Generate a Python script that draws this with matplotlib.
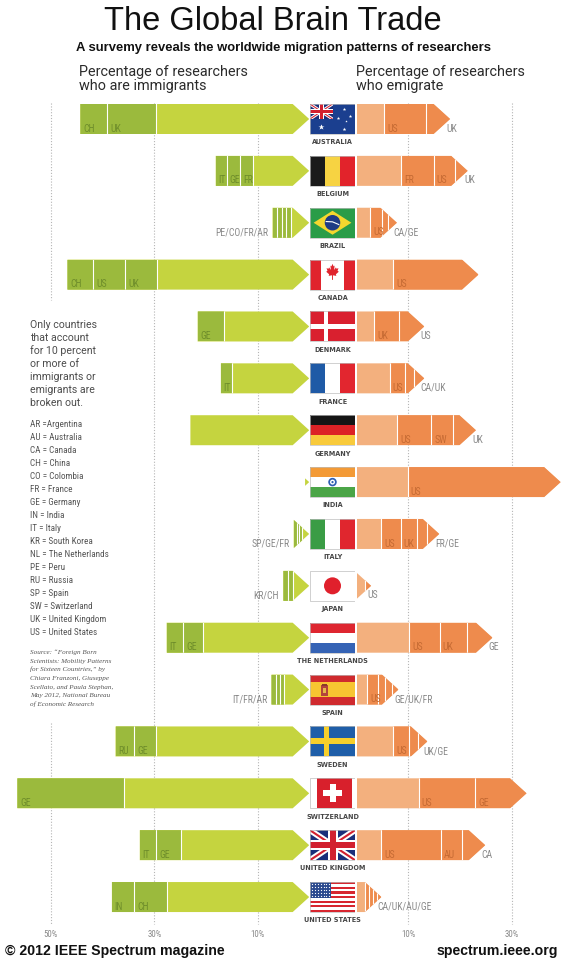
import numpy as np
import matplotlib
matplotlib.use('Agg')
import matplotlib.pyplot as plt
from matplotlib.patches import Polygon, Rectangle, Ellipse
from matplotlib import font_manager as fm

# ---------------- data ----------------
countries = ["AUSTRALIA", "BELGIUM", "BRAZIL", "CANADA", "DENMARK", "FRANCE",
             "GERMANY", "INDIA", "ITALY", "JAPAN", "THE NETHERLANDS", "SPAIN",
             "SWEDEN", "SWITZERLAND", "UNITED KINGDOM", "UNITED STATES"]
flag_ids = ["au", "be", "br", "ca", "dk", "fr", "de", "in", "it", "jp", "nl",
            "es", "se", "ch", "gb", "us"]

# percentage of researchers who are immigrants (total) and broken-out origins
imm_total = [44.3, 18.1, 7.1, 46.8, 21.6, 17.1, 23.0, 0.8, 3.0, 5.0, 27.6, 7.3,
             37.5, 56.5, 32.8, 38.2]
imm_codes = [["CH", "UK"], ["IT", "GE", "FR"], ["PE", "CO", "FR", "AR"],
             ["CH", "US", "UK"], ["GE"], ["IT"], [], [], ["SP", "GE", "FR"],
             ["KR", "CH"], ["IT", "GE"], ["IT", "FR", "AR"], ["RU", "GE"],
             ["GE"], ["IT", "GE"], ["IN", "CH"]]
imm_shares = [[5.2, 9.4], [2.1, 2.6, 2.6], [0.9, 0.9, 0.9, 0.9],
              [5.0, 6.2, 6.2], [5.1], [2.1], [], [], [0.55, 0.55, 0.55],
              [0.8, 1.0], [3.2, 3.9], [0.8, 0.8, 0.8], [3.6, 4.2],
              [20.7], [3.2, 4.8], [4.3, 6.4]]

# percentage of researchers who emigrate (total) and broken-out destinations
emi_total = [18.1, 21.5, 7.8, 23.6, 13.1, 13.1, 23.1, 39.5, 16.0, 2.8, 26.3,
             8.1, 13.7, 32.9, 24.9, 4.8]
emi_codes = [["US", "UK"], ["FR", "US", "UK"], ["US", "CA", "GE"], ["US"],
             ["UK", "US"], ["US", "CA", "UK"], ["US", "SW", "UK"], ["US"],
             ["US", "UK", "FR", "GE"], ["US"], ["US", "UK", "GE"],
             ["US", "GE", "UK", "FR"], ["US", "UK", "GE"], ["US", "GE"],
             ["US", "AU", "CA"], ["CA", "UK", "AU", "GE"]]
emi_shares = [[8.1, 4.7], [6.3, 4.2, 2.4], [2.4, 1.1, 1.7], [16.5],
              [4.8, 4.9], [2.9, 1.8, 2.0], [6.6, 4.3, 4.4], [29.6],
              [3.8, 3.1, 2.0, 2.4], [1.2], [5.9, 5.2, 5.0],
              [2.2, 1.3, 1.3, 1.3], [3.1, 1.6, 1.9], [11.0, 9.9],
              [11.5, 4.1, 4.5], [0.8, 0.8, 0.8, 0.8]]

left_ticks = [50, 30, 10]
right_ticks = [10, 30]

legend_lines = ["AR =Argentina", "AU = Australia", "CA = Canada", "CH = China",
                "CO = Colombia", "FR = France", "GE = Germany", "IN = India",
                "IT = Italy", "KR = South Korea", "NL = The Netherlands",
                "PE = Peru", "RU = Russia", "SP = Spain", "SW = Switzerland",
                "UK = United Kingdom", "US = United States"]
note_lines = ["Only countries", "that account", "for 10 percent", "or more of",
              "immigrants or", "emigrants are", "broken out."]
source_lines = ["Source: \u201cForeign Born", "Scientists: Mobility Patterns",
                "for Sixteen Countries,\u201d by", "Chiara Franzoni, Giuseppe",
                "Scellato, and Paula Stephan,", "May 2012, National Bureau",
                "of Economic Research"]

# ---------------- fonts ----------------
def pick(names):
    for n in names:
        try:
            fm.findfont(fm.FontProperties(family=n), fallback_to_default=False)
            return n
        except Exception:
            pass
    return 'DejaVu Sans'

NARROW = pick(['Liberation Sans Narrow', 'Roboto Condensed', 'Roboto'])
SANS = pick(['Liberation Sans', 'Arial', 'Roboto'])
SERIF = pick(['Liberation Serif', 'DejaVu Serif'])
ROBO = pick(['Roboto', 'Open Sans', 'Lato'])

# ---------------- layout ----------------
W, Hfig = 564, 960
ROW0, ROWPX = 119.0, 51.87      # pixel centre of first row, row pitch
BARPX = 30.0
H = BARPX / ROWPX               # bar height in row units
HH = H / 2
PXPCT = 5.165                   # pixels per percent
L0, R0 = 309.2, 356.6           # pixel of 0% on left / right side
FLX0, FLW = 310.0, 45.0         # flag box
AH = 3.2                        # arrow head length (percent)

G_LIGHT = '#c5d43f'
G_DARK = '#9bba3d'
O_LIGHT = '#f3b07e'
O_DARK = '#ee8b4d'
G_TXT = '#6f8e2b'
O_TXT = '#c56a33'
OUT_TXT = '#8a8a8a'

def prow(px):
    return (px - ROW0) / ROWPX

ylim = (prow(Hfig), prow(0))

fig = plt.figure(figsize=(W / 100, Hfig / 100), dpi=100)
fig.patch.set_facecolor('white')

axL = fig.add_axes([0, 0, L0 / W, 1])
axL.set_xlim(L0 / PXPCT, 0)
axR = fig.add_axes([R0 / W, 0, (W - R0) / W, 1])
axR.set_xlim(0, (W - R0) / PXPCT)
axM = fig.add_axes([FLX0 / W, 0, FLW / W, 1])
axM.set_xlim(0, FLW)
for a in (axL, axR, axM):
    a.set_ylim(*ylim)
    a.axis('off')
    a.patch.set_alpha(0)

# ---------------- grid lines ----------------
grid_kw = dict(color='#b5b5b5', lw=0.8, linestyle=(0, (1, 1.6)), zorder=1)
gtop, gbot = prow(103), prow(924)
for t in left_ticks:
    if t == 50:
        axL.plot([t, t], [gtop, prow(300)], **grid_kw)
        axL.plot([t, t], [prow(723), gbot], **grid_kw)
    else:
        axL.plot([t, t], [gtop, gbot], **grid_kw)
    axL.text(t, prow(936.5), f"{t}%", ha='center', va='baseline',
             fontsize=6.3, color='#888888', family=NARROW)
for t in right_ticks:
    axR.plot([t, t], [gtop, gbot], **grid_kw)
    axR.text(t, prow(936.5), f"{t}%", ha='center', va='baseline',
             fontsize=6.3, color='#888888', family=NARROW)

# ---------------- bars ----------------
def arrow_pts(T, i, tip_at_end):
    if T > AH:
        if tip_at_end:
            return [(0, i - HH), (T - AH, i - HH), (T, i), (T - AH, i + HH), (0, i + HH)]
        return [(T, i - HH), (AH, i - HH), (0, i), (AH, i + HH), (T, i + HH)]
    k = HH * T / AH
    if tip_at_end:
        return [(0, i - k), (T, i), (0, i + k)]
    return [(T, i - k), (0, i), (T, i + k)]

LBL_BASE = HH - 2.4 / ROWPX
LBL_FS = 7.0

for i in range(len(countries)):
    # ---- immigrants (left) ----
    T = imm_total[i]
    poly = Polygon(arrow_pts(T, i, False), closed=True, fc=G_LIGHT, ec='none', zorder=3)
    axL.add_patch(poly)
    outer = T
    small = []
    for code, s in zip(imm_codes[i], imm_shares[i]):
        a, b = outer - s, outer
        r = Rectangle((a, i - HH), s, H, fc=G_DARK, ec='none', zorder=4)
        axL.add_patch(r)
        r.set_clip_path(poly)
        ln, = axL.plot([a, a], [i - HH, i + HH], color='white', lw=0.8, zorder=5)
        ln.set_clip_path(poly)
        if s < 1.5:
            small.append(code)
        else:
            axL.text(b - 0.55, i + LBL_BASE, code, ha='left', va='baseline',
                     fontsize=LBL_FS, color=G_TXT, family=NARROW, zorder=6)
        outer = a
    if small:
        axL.text(T + 0.8, i + LBL_BASE, "/".join(small), ha='right', va='baseline',
                 fontsize=LBL_FS, color=OUT_TXT, family=NARROW, zorder=6)

    # ---- emigrants (right) ----
    T = emi_total[i]
    poly = Polygon(arrow_pts(T, i, True), closed=True, fc=O_LIGHT, ec='none', zorder=3)
    axR.add_patch(poly)
    start = T - sum(emi_shares[i])
    tip_group = []
    for code, s in zip(emi_codes[i], emi_shares[i]):
        a, b = start, start + s
        r = Rectangle((a, i - HH), s, H, fc=O_DARK, ec='none', zorder=4)
        axR.add_patch(r)
        r.set_clip_path(poly)
        ln, = axR.plot([a, a], [i - HH, i + HH], color='white', lw=0.8, zorder=5)
        ln.set_clip_path(poly)
        body_w = min(b, T - AH) - a
        if body_w >= 1.9:
            axR.text(a + 0.6, i + LBL_BASE, code, ha='left', va='baseline',
                     fontsize=LBL_FS, color=O_TXT, family=NARROW, zorder=6)
        else:
            tip_group.append(code)
        start = b
    if tip_group:
        axR.text(T - 0.7, i + LBL_BASE, "/".join(tip_group), ha='left', va='baseline',
                 fontsize=LBL_FS, color=OUT_TXT, family=NARROW, zorder=6)

    # country name
    axM.text(FLW / 2, i + HH + 10.3 / ROWPX, countries[i], ha='center', va='baseline',
             fontsize=4.7, fontweight='bold', color='#474747', family='DejaVu Sans')

# ---------------- flags ----------------
def fx(u):
    return u * FLW

def fy(i, v):
    return i - HH + v * H

def rect(ax, i, u0, v0, u1, v1, color, z=5, **kw):
    p = Rectangle((fx(u0), fy(i, v0)), fx(u1) - fx(u0), fy(i, v1) - fy(i, v0),
                  fc=color, ec='none', zorder=z, **kw)
    ax.add_patch(p)
    return p

def poly_uv(ax, i, uv, color, z=6):
    p = Polygon([(fx(u), fy(i, v)) for u, v in uv], closed=True, fc=color, ec='none', zorder=z)
    ax.add_patch(p)
    return p

def circle(ax, i, uc, vc, dpx, color, z=7, ec='none', lw=0):
    e = Ellipse((fx(uc), fy(i, vc)), dpx, dpx / ROWPX, fc=color, ec=ec, lw=lw, zorder=z)
    ax.add_patch(e)
    return e

def pt(px):
    return px * 0.72

def union_jack(ax, i, u0, v0, u1, v1, z=5):
    clip = rect(ax, i, u0, v0, u1, v1, '#1a2f7a', z=z)
    hpx = (v1 - v0) * BARPX
    x0, x1 = fx(u0), fx(u1)
    y0, y1 = fy(i, v0), fy(i, v1)
    for (xa, ya, xb, yb) in [(x0, y0, x1, y1), (x0, y1, x1, y0)]:
        l1, = ax.plot([xa, xb], [ya, yb], color='white', lw=pt(hpx * 0.2),
                      solid_capstyle='butt', zorder=z + 1)
        l2, = ax.plot([xa, xb], [ya, yb], color='#d2202f', lw=pt(hpx * 0.07),
                      solid_capstyle='butt', zorder=z + 2)
        l1.set_clip_path(clip)
        l2.set_clip_path(clip)
    uc = (u0 + u1) / 2
    vc = (v0 + v1) / 2
    hw = (hpx / 6) / FLW
    rect(ax, i, u0, vc - 1 / 6 * (v1 - v0), u1, vc + 1 / 6 * (v1 - v0), 'white', z=z + 3)
    rect(ax, i, uc - hw, v0, uc + hw, v1, 'white', z=z + 3)
    hr = (hpx / 10) / FLW
    rect(ax, i, u0, vc - 0.1 * (v1 - v0), u1, vc + 0.1 * (v1 - v0), '#d2202f', z=z + 4)
    rect(ax, i, uc - hr, v0, uc + hr, v1, '#d2202f', z=z + 4)

def star(ax, i, u, v, size, z=12):
    ax.plot([fx(u)], [fy(i, v)], marker='*', ms=size, color='white', mec='none',
            linestyle='none', zorder=z)

def draw_flag(ax, i, fid):
    if fid == 'au':
        rect(ax, i, 0, 0, 1, 1, '#1b3f8f', z=4)
        union_jack(ax, i, 0, 0, 0.5, 0.5, z=5)
        star(ax, i, 0.25, 0.75, 4.2)
        for (u, v, s) in [(0.75, 0.18, 2.6), (0.62, 0.47, 2.6), (0.88, 0.40, 2.6),
                          (0.75, 0.82, 2.8), (0.80, 0.58, 1.8)]:
            star(ax, i, u, v, s)
    elif fid == 'be':
        rect(ax, i, 0, 0, 1 / 3, 1, '#1a1a1a')
        rect(ax, i, 1 / 3, 0, 2 / 3, 1, '#f7d342')
        rect(ax, i, 2 / 3, 0, 1, 1, '#e2232b')
    elif fid == 'br':
        rect(ax, i, 0, 0, 1, 1, '#2a9c48')
        poly_uv(ax, i, [(0.08, 0.5), (0.5, 0.1), (0.92, 0.5), (0.5, 0.9)], '#f4d72e')
        c = circle(ax, i, 0.5, 0.5, 15.5, '#1f3b85')
        ln, = ax.plot([fx(0.36), fx(0.5), fx(0.64)], [fy(i, 0.46), fy(i, 0.47), fy(i, 0.56)],
                      color='white', lw=0.8, zorder=8)
        ln.set_clip_path(c)
    elif fid == 'ca':
        rect(ax, i, 0, 0, 1, 1, 'white', z=4)
        rect(ax, i, 0, 0, 0.25, 1, '#e0242d')
        rect(ax, i, 0.75, 0, 1, 1, '#e0242d')
        leaf = [(0, 1.0), (0.14, 0.74), (0.27, 0.82), (0.21, 0.38), (0.45, 0.64),
                (0.52, 0.5), (0.78, 0.56), (0.66, 0.3), (0.82, 0.2), (0.44, -0.06),
                (0.5, -0.22), (0.06, -0.16), (0.06, -0.62), (-0.06, -0.62), (-0.06, -0.16),
                (-0.5, -0.22), (-0.44, -0.06), (-0.82, 0.2), (-0.66, 0.3), (-0.78, 0.56),
                (-0.52, 0.5), (-0.45, 0.64), (-0.21, 0.38), (-0.27, 0.82), (-0.14, 0.74)]
        poly_uv(ax, i, [(0.5 + x * 0.17, 0.47 - y * 0.33) for x, y in leaf], '#e0242d', z=7)
    elif fid == 'dk':
        rect(ax, i, 0, 0, 1, 1, '#d9202f', z=4)
        rect(ax, i, 0.30, 0, 0.41, 1, 'white')
        rect(ax, i, 0, 0.42, 1, 0.58, 'white')
    elif fid == 'fr':
        rect(ax, i, 0, 0, 1 / 3, 1, '#1f5aa6')
        rect(ax, i, 1 / 3, 0, 2 / 3, 1, 'white')
        rect(ax, i, 2 / 3, 0, 1, 1, '#e2262f')
    elif fid == 'de':
        rect(ax, i, 0, 0, 1, 1 / 3, '#151515')
        rect(ax, i, 0, 1 / 3, 1, 2 / 3, '#dc2226')
        rect(ax, i, 0, 2 / 3, 1, 1, '#f8ca3b')
    elif fid == 'in':
        rect(ax, i, 0, 0, 1, 1 / 3, '#f39a36')
        rect(ax, i, 0, 1 / 3, 1, 2 / 3, 'white')
        rect(ax, i, 0, 2 / 3, 1, 1, '#4ba547')
        circle(ax, i, 0.5, 0.5, 8.5, '#2f5fb3', z=7)
        circle(ax, i, 0.5, 0.5, 5.0, 'white', z=8)
        circle(ax, i, 0.5, 0.5, 2.2, '#2f5fb3', z=9)
    elif fid == 'it':
        rect(ax, i, 0, 0, 1 / 3, 1, '#3a9c45')
        rect(ax, i, 1 / 3, 0, 2 / 3, 1, 'white')
        rect(ax, i, 2 / 3, 0, 1, 1, '#e0262e')
    elif fid == 'jp':
        rect(ax, i, 0, 0, 1, 1, 'white', z=4)
        circle(ax, i, 0.5, 0.5, 17.0, '#e0202c')
    elif fid == 'nl':
        rect(ax, i, 0, 0, 1, 1 / 3, '#de2630')
        rect(ax, i, 0, 1 / 3, 1, 2 / 3, 'white')
        rect(ax, i, 0, 2 / 3, 1, 1, '#3563b5')
    elif fid == 'es':
        rect(ax, i, 0, 0, 1, 0.25, '#cf2a2e')
        rect(ax, i, 0, 0.25, 1, 0.75, '#f7c531')
        rect(ax, i, 0, 0.75, 1, 1, '#cf2a2e')
        rect(ax, i, 0.24, 0.36, 0.40, 0.70, '#b3433c', z=7)
        rect(ax, i, 0.27, 0.30, 0.37, 0.38, '#8a3a2a', z=7)
        rect(ax, i, 0.29, 0.44, 0.35, 0.62, '#e6b84a', z=8)
    elif fid == 'se':
        rect(ax, i, 0, 0, 1, 1, '#1f5ea8', z=4)
        rect(ax, i, 0.30, 0, 0.43, 1, '#f7cf2a')
        rect(ax, i, 0, 0.40, 1, 0.60, '#f7cf2a')
    elif fid == 'ch':
        rect(ax, i, 0, 0, 1, 1, 'white', z=4)
        rect(ax, i, 0.15, 0, 0.94, 1, '#d8202c')
        uc = 0.50
        rect(ax, i, uc - 3.0 / FLW, 0.20, uc + 3.0 / FLW, 0.80, 'white', z=7)
        rect(ax, i, uc - 9.5 / FLW, 0.395, uc + 9.5 / FLW, 0.605, 'white', z=7)
    elif fid == 'gb':
        union_jack(ax, i, 0, 0, 1, 1, z=5)
    elif fid == 'us':
        for k in range(13):
            rect(ax, i, 0, k / 13, 1, (k + 1) / 13, '#d7262f' if k % 2 == 0 else 'white')
        rect(ax, i, 0, 0, 0.47, 7 / 13, '#2b4a8e', z=6)
        us_u = np.linspace(0.04, 0.43, 7)
        us_v = np.linspace(0.06, 0.48, 5)
        uu, vv = np.meshgrid(us_u, us_v)
        ax.plot(fx(uu.ravel()), fy(i, vv.ravel()), marker='o', ms=0.9, color='white',
                mec='none', linestyle='none', zorder=7)
    # thin frame
    ax.add_patch(Rectangle((fx(0), fy(i, 0)), FLW, H, fc='none', ec='#bdbdbd',
                           lw=0.5, zorder=13))

for i, fid in enumerate(flag_ids):
    draw_flag(axM, i, fid)

# ---------------- texts ----------------
def ftext(xpx, ypx, s, **kw):
    fig.text(xpx / W, 1 - ypx / Hfig, s, **kw)

ftext(273, 30, "The Global Brain Trade", ha='center', va='baseline',
      fontsize=23.5, family=SANS, color='#111111')
ftext(283, 50.5, "A survemy reveals the worldwide migration patterns of researchers",
      ha='center', va='baseline', fontsize=9.4, fontweight='bold', family=SANS,
      color='#111111')
for xh, l1, l2 in [(79.3, "Percentage of researchers", "who are immigrants"),
                   (356.3, "Percentage of researchers", "who emigrate")]:
    ftext(xh, 76, l1, ha='left', va='baseline', fontsize=10.4, family=ROBO,
          color='#2b2b2b')
    ftext(xh, 90, l2, ha='left', va='baseline', fontsize=10.4, family=ROBO,
          color='#2b2b2b')

for k, s in enumerate(note_lines):
    ftext(30.3, 328.3 + 12.9 * k, s, ha='left', va='baseline', fontsize=7.6,
          family=ROBO, color='#4d4d4d')
for k, s in enumerate(legend_lines):
    ftext(30.3, 426.7 + 13 * k, s, ha='left', va='baseline', fontsize=6.6,
          family=NARROW, color='#555555')
for k, s in enumerate(source_lines):
    ftext(30.3, 654 + 8.7 * k, s, ha='left', va='baseline', fontsize=5.1,
          family=SERIF, style='italic', color='#555555')

ftext(5, 955.5, "\u00a9 2012 IEEE Spectrum magazine", ha='left', va='baseline',
      fontsize=10.2, fontweight='bold', family=SANS, color='#111111')
ftext(558, 955.5, "spectrum.ieee.org", ha='right', va='baseline',
      fontsize=10.2, fontweight='bold', family=SANS, color='#111111')

fig.savefig('out.png', dpi=100, facecolor='white')
